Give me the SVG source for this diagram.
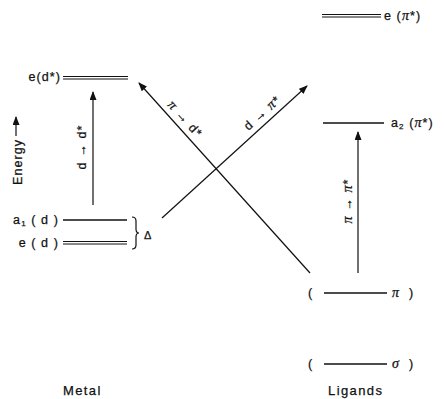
<svg xmlns="http://www.w3.org/2000/svg" width="444" height="399" viewBox="0 0 444 399">
  <style>
    text { font-family: "Liberation Sans", Arial, sans-serif; fill: #111; stroke: #111; stroke-width: 0.25; }
    .lbl { font-size: 12.5px; letter-spacing: 1.1px; }
    .gk { font-family: "Liberation Serif", "DejaVu Serif", serif; font-style: italic; font-size: 14px; }
    .lvl { stroke: #111; stroke-width: 1.3; fill: none; }
    .dbl { stroke: #111; stroke-width: 1; fill: none; }
    .arr { stroke: #111; stroke-width: 1.2; fill: none; marker-end: url(#head); }
    .axis { font-size: 13px; letter-spacing: 1.4px; }
  </style>
  <defs>
    <marker id="head" markerUnits="userSpaceOnUse" markerWidth="9" markerHeight="7" refX="8" refY="3.5" orient="auto">
      <path d="M0,0 L9,3.5 L0,7 Z" fill="#111"/>
    </marker>
  </defs>

  <!-- Metal levels -->
  <g id="metal-e-dstar">
    <line class="dbl" x1="63" y1="76.5" x2="128" y2="76.5"/>
    <line class="dbl" x1="63" y1="79" x2="128" y2="79"/>
    <text class="lbl" x="61" y="81" text-anchor="end">e(d*)</text>
  </g>
  <g id="metal-a1-d">
    <line class="lvl" x1="63" y1="220" x2="127" y2="220"/>
    <text class="lbl" x="59" y="224" text-anchor="end">a<tspan font-size="8" dy="2">1</tspan><tspan dy="-2"> ( d )</tspan></text>
  </g>
  <g id="metal-e-d">
    <line class="dbl" x1="63" y1="241.5" x2="127" y2="241.5"/>
    <line class="dbl" x1="63" y1="244" x2="127" y2="244"/>
    <text class="lbl" x="59" y="247" text-anchor="end">e ( d )</text>
  </g>
  <g id="delta">
    <path d="M132,217 q4,0 4,4 v8 q0,4 3,4 q-3,0 -3,4 v8 q0,4 -4,4" stroke="#111" stroke-width="1.2" fill="none"/>
    <text x="144" y="239" font-size="11">Δ</text>
  </g>

  <!-- Ligand levels -->
  <g id="lig-e-pistar">
    <line class="dbl" x1="322" y1="14.5" x2="381" y2="14.5"/>
    <line class="dbl" x1="322" y1="17" x2="381" y2="17"/>
    <text class="lbl" x="384" y="20">e (<tspan class="gk">π</tspan>*)</text>
  </g>
  <g id="lig-a2-pistar">
    <line class="lvl" x1="323" y1="123" x2="384" y2="123"/>
    <text class="lbl" x="391" y="127">a<tspan font-size="8" dy="2">2</tspan><tspan dy="-2"> (</tspan><tspan class="gk">π</tspan>*)</text>
  </g>
  <g id="lig-pi">
    <line class="lvl" x1="324" y1="293" x2="387" y2="293"/>
    <text class="lbl" x="308" y="297">(</text>
    <text class="lbl gk" x="392" y="297">π</text>
    <text class="lbl" x="409" y="297">)</text>
  </g>
  <g id="lig-sigma">
    <line class="lvl" x1="324" y1="364" x2="387" y2="364"/>
    <text class="lbl" x="308" y="368">(</text>
    <text class="lbl gk" x="392" y="368">σ</text>
    <text class="lbl" x="409" y="368">)</text>
  </g>

  <!-- Axis labels -->
  <g id="energy">
    <text class="lbl" transform="translate(22,185) rotate(-90)">Energy</text>
    <line class="arr" x1="16" y1="136" x2="16" y2="117"/>
  </g>
  <text class="axis" x="63" y="395">Metal</text>
  <text class="axis" x="328" y="395">Ligands</text>

  <!-- Transitions -->
  <g id="connectors">
    <line class="arr" x1="93" y1="205" x2="93" y2="92"/>
    <line class="arr" x1="358" y1="273" x2="358" y2="132"/>
    <line class="arr" x1="310" y1="273" x2="139" y2="83"/>
    <line class="arr" x1="162" y1="218" x2="307" y2="86"/>
    <text class="lbl" text-anchor="middle" letter-spacing="2" transform="translate(86,147) rotate(-90)">d → d*</text>
    <text class="lbl" text-anchor="middle" letter-spacing="2" transform="translate(352,201) rotate(-90)"><tspan class="gk">π</tspan> → <tspan class="gk">π</tspan>*</text>
    <text class="lbl" text-anchor="middle" letter-spacing="2" transform="translate(182,122) rotate(48)"><tspan class="gk">π</tspan> → d*</text>
    <text class="lbl" text-anchor="middle" letter-spacing="2" transform="translate(265,116) rotate(-42.3)">d → <tspan class="gk">π</tspan>*</text>
  </g>
</svg>
